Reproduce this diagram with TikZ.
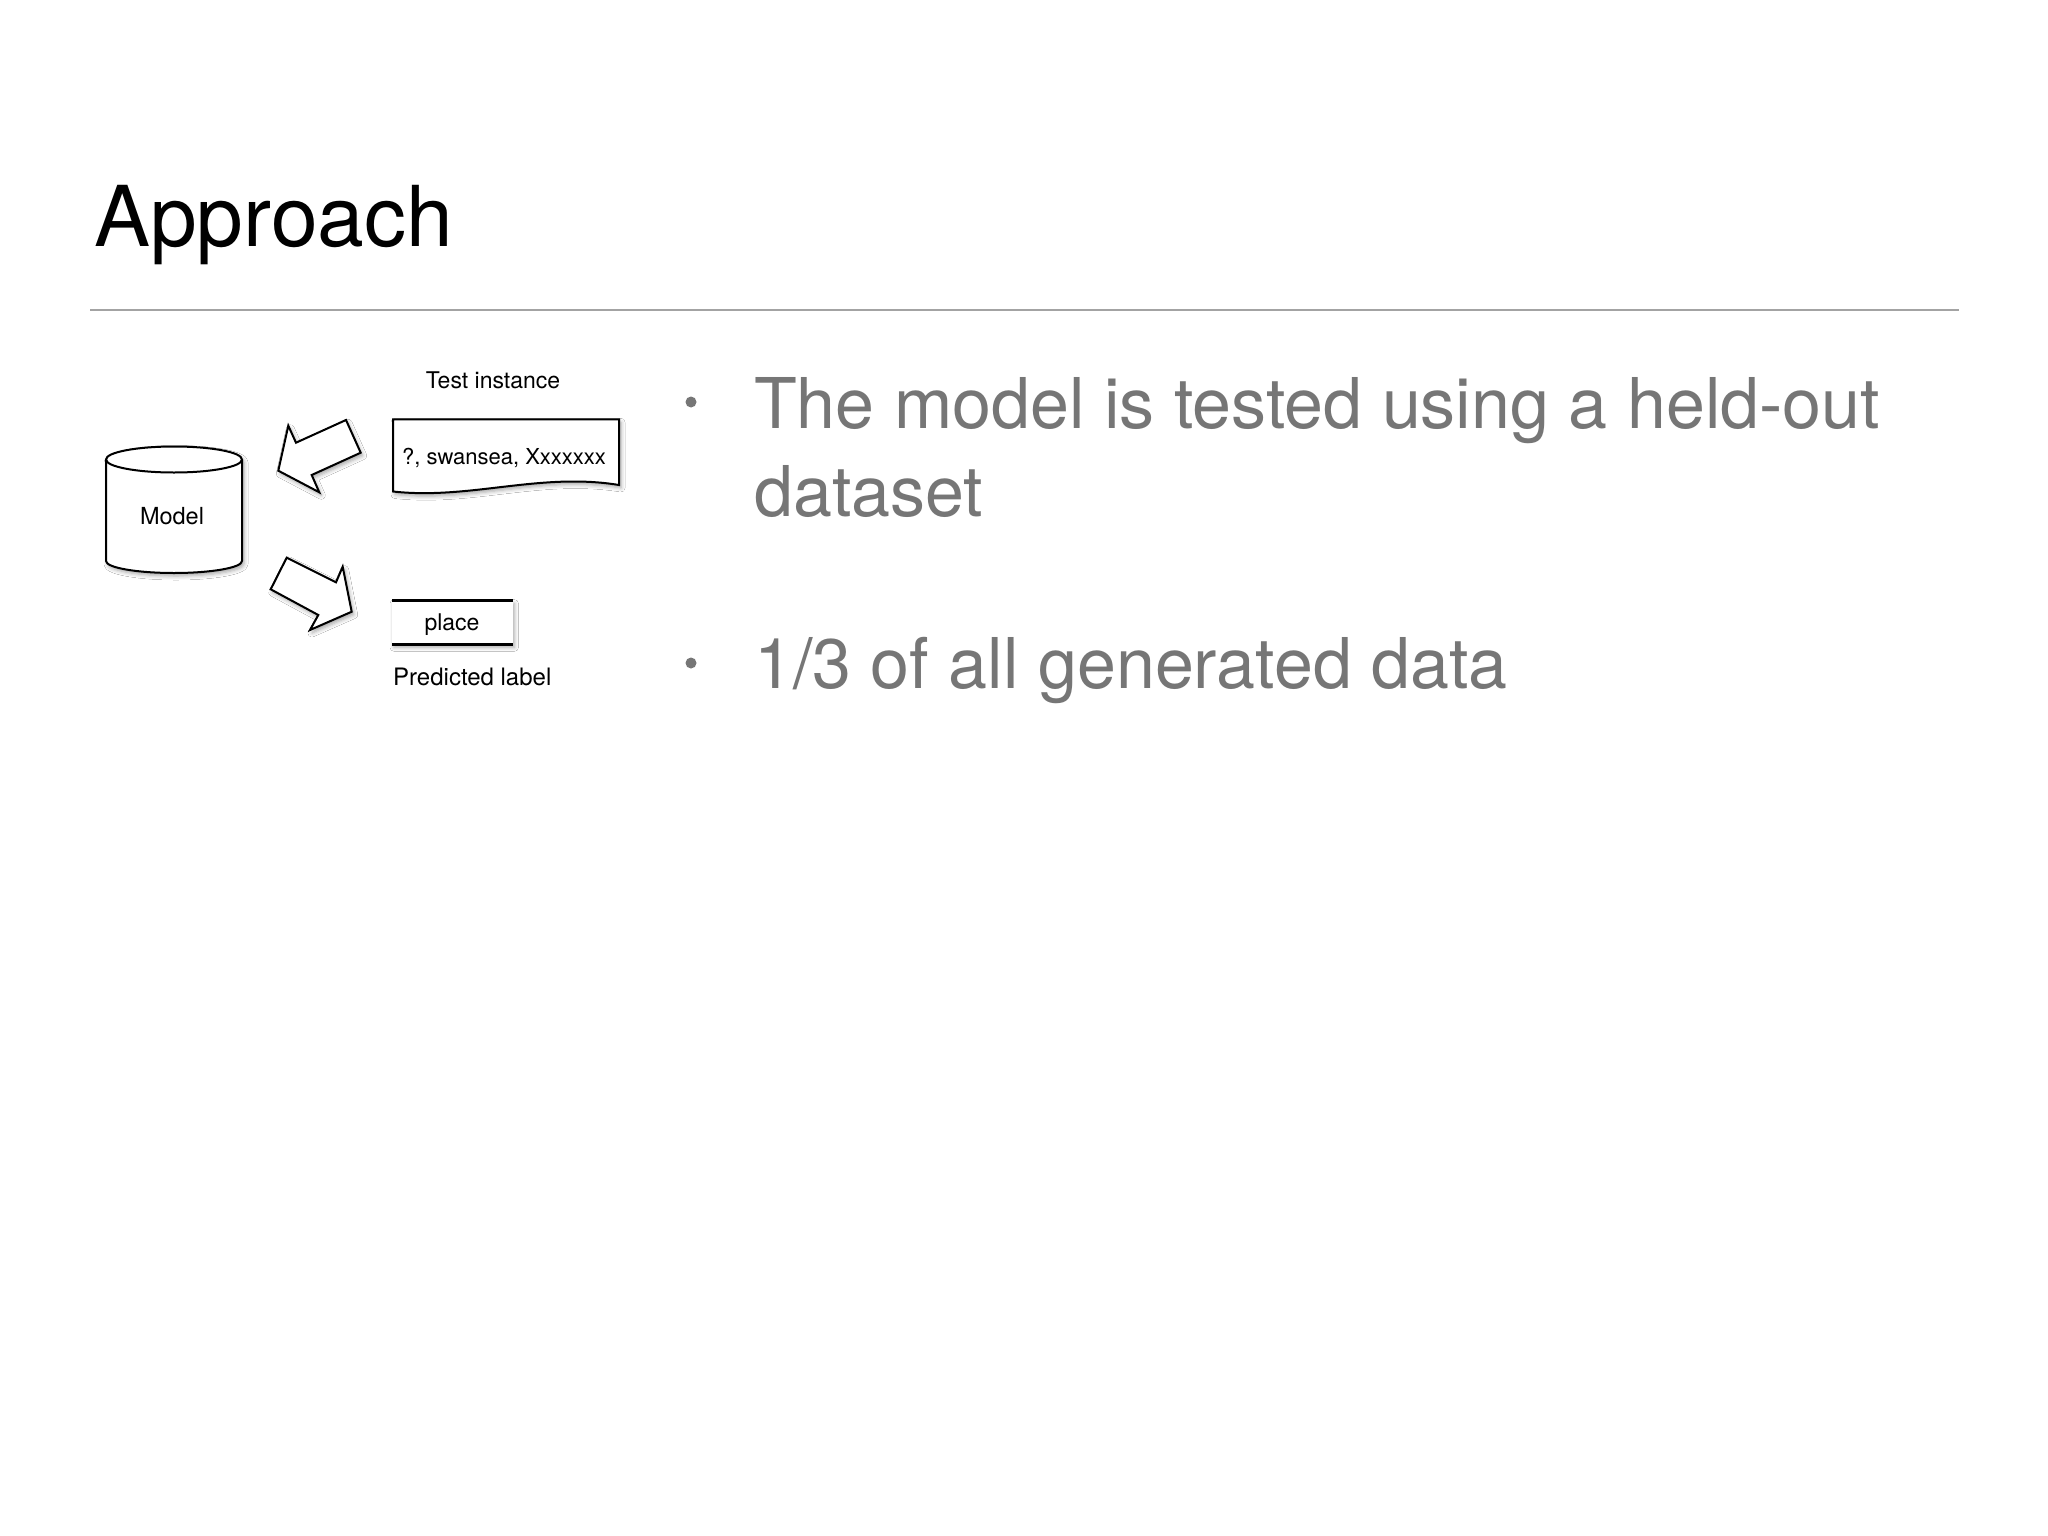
\documentclass[tikz,border=0pt]{standalone}
\usepackage{fontspec}
\setmainfont{TeX Gyre Heros}
\usetikzlibrary{shadows.blur}
\definecolor{rulegray}{HTML}{A3A3A3}
\definecolor{bodygray}{HTML}{767676}
\tikzset{
  shad/.style={blur shadow={shadow xshift=2pt, shadow yshift=-3pt, shadow blur radius=4pt, shadow opacity=35}},
  shapeline/.style={draw=black, line width=2pt, fill=white, line join=miter},
  small/.style={inner sep=0pt, font=\fontsize{23}{27}\selectfont, text=black},
  bodytext/.style={inner sep=0pt, anchor=base west, font=\fontsize{70}{84}\selectfont, text=bodygray},
}
\begin{document}
\begin{tikzpicture}[x=1pt, y=-1pt]
\useasboundingbox[fill=white] (0,0) rectangle (2048,1536);

% title and rule
\node[inner sep=0pt, anchor=base west, font=\fontsize{84}{100}\selectfont] (title) at (94,246) {Approach};
\draw[rulegray, line width=2pt] (90,310) -- (1959,310);

% cylinder (Model)
\path[shapeline, shad] (106,459.5) -- (106,561)
  .. controls (106,567.6) and (136.4,573) .. (174,573)
  .. controls (211.6,573) and (242,567.6) .. (242,561)
  -- (242,459.5)
  .. controls (242,452.3) and (211.6,446.5) .. (174,446.5)
  .. controls (136.4,446.5) and (106,452.3) .. (106,459.5) -- cycle;
\draw[line width=2pt] (106,459.5)
  .. controls (106,466.7) and (136.4,472.5) .. (174,472.5)
  .. controls (211.6,472.5) and (242,466.7) .. (242,459.5);
\node[small, anchor=base, font=\fontsize{23.5}{27}\selectfont] (model) at (172,524.3) {Model};

% block arrow into the model
\path[shapeline, shad] (278.3,470.7) -- (288.3,425.7) -- (296,442.7) -- (346,420)
  -- (360.7,452.7) -- (311.7,475) -- (319.3,492.3) -- cycle;

% block arrow out of the model
\path[shapeline, shad] (286.7,557.7) -- (336,582.3) -- (342.7,566.7) -- (351.7,611.7)
  -- (310,630) -- (318.3,615) -- (270.7,589.3) -- cycle;

% test instance document
\node[small, anchor=base] (testlbl) at (493,388.3) {Test instance};
\path[shapeline, shad] (393,419.3) -- (619,419.3) -- (619,485)
  .. controls (540,472) and (470,500) .. (393,491.5) -- cycle;
\node[small, anchor=base, font=\fontsize{22}{26}\selectfont] (inst) at (504,464) {?, swansea, Xxxxxxx};

% predicted label box
\path[fill=white, shad] (392,600.7) rectangle (512.5,644.3);
\draw[line width=2.5pt] (392,600.7) -- (512.5,600.7);
\draw[line width=2.5pt] (392,644.3) -- (512.5,644.3);
\node[small, anchor=base] (place) at (452,630) {place};
\node[small, anchor=base west, font=\fontsize{24}{28}\selectfont] (predlbl) at (393,685) {Predicted label};

% bullets
\fill[bodygray] (691,402) circle (5.5);
\node[bodytext] (b1a) at (754,428.3) {The model is tested using a held-out};
\node[bodytext] (b1b) at (754,516.7) {dataset};
\fill[bodygray] (691,663) circle (5.5);
\node[bodytext] (b2) at (754,688.3) {1/3 of all generated data};
\end{tikzpicture}
\end{document}
